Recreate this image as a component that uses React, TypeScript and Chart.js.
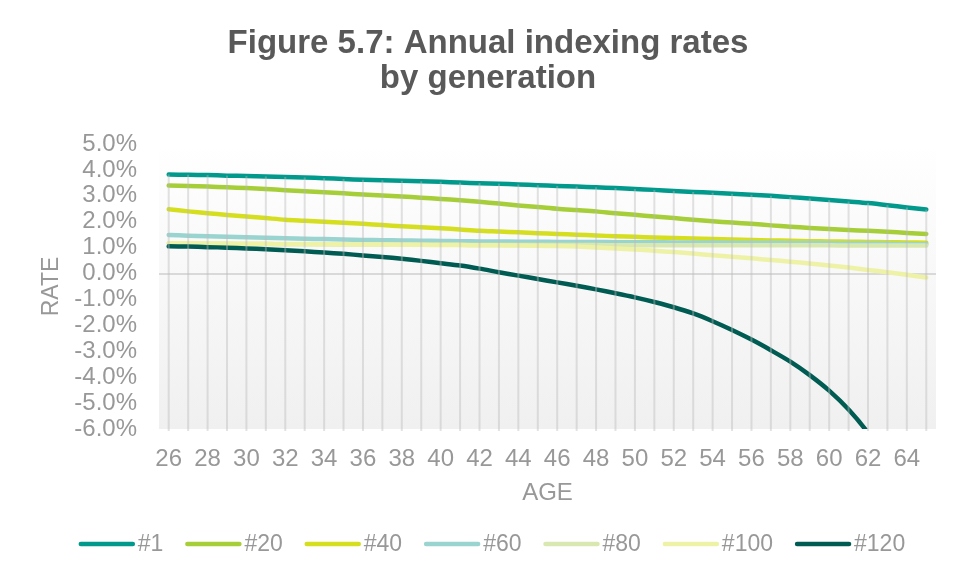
import React, { useEffect, useRef } from "react";
import { Chart, registerables } from "chart.js";

Chart.register(...registerables);

const ages = Array.from({ length: 40 }, (_, i) => String(26 + i));

const seriesNames = ["#1", "#20", "#40", "#60", "#80", "#100", "#120"];
const seriesColors = ["#00998C", "#A6CE39", "#D5DF1F", "#9AD4D0", "#D9E8B1", "#EEF2A6", "#005B52"];

const s1 = [3.82, 3.81, 3.80, 3.78, 3.77, 3.75, 3.73, 3.71, 3.68, 3.65, 3.62, 3.60, 3.58, 3.56, 3.54, 3.51, 3.49, 3.47, 3.44, 3.41, 3.38, 3.36, 3.33, 3.30, 3.26, 3.23, 3.19, 3.15, 3.12, 3.08, 3.04, 3.00, 2.95, 2.90, 2.84, 2.78, 2.72, 2.64, 2.55, 2.47];
const s20 = [3.40, 3.38, 3.36, 3.33, 3.30, 3.26, 3.22, 3.18, 3.14, 3.10, 3.05, 3.01, 2.97, 2.93, 2.88, 2.83, 2.77, 2.70, 2.63, 2.57, 2.50, 2.45, 2.40, 2.33, 2.27, 2.20, 2.14, 2.08, 2.02, 1.97, 1.92, 1.86, 1.81, 1.76, 1.72, 1.68, 1.65, 1.61, 1.57, 1.53];
const s40 = [2.48, 2.40, 2.33, 2.26, 2.20, 2.14, 2.08, 2.04, 2.00, 1.96, 1.92, 1.87, 1.83, 1.79, 1.75, 1.70, 1.65, 1.62, 1.59, 1.56, 1.53, 1.50, 1.47, 1.44, 1.42, 1.39, 1.37, 1.35, 1.33, 1.31, 1.30, 1.28, 1.27, 1.25, 1.24, 1.23, 1.22, 1.21, 1.20, 1.19];
const s60 = [1.49, 1.46, 1.44, 1.42, 1.40, 1.38, 1.36, 1.34, 1.33, 1.31, 1.30, 1.29, 1.28, 1.27, 1.26, 1.25, 1.24, 1.24, 1.23, 1.23, 1.22, 1.22, 1.22, 1.21, 1.21, 1.21, 1.20, 1.20, 1.20, 1.19, 1.19, 1.19, 1.18, 1.18, 1.17, 1.16, 1.16, 1.15, 1.14, 1.13];
const s80 = [1.16, 1.16, 1.15, 1.15, 1.14, 1.14, 1.13, 1.13, 1.13, 1.12, 1.12, 1.12, 1.11, 1.11, 1.11, 1.11, 1.10, 1.10, 1.10, 1.10, 1.10, 1.10, 1.10, 1.09, 1.09, 1.09, 1.09, 1.09, 1.09, 1.09, 1.09, 1.09, 1.09, 1.09, 1.09, 1.08, 1.08, 1.08, 1.08, 1.08];
const s100 = [1.17, 1.17, 1.16, 1.16, 1.15, 1.15, 1.14, 1.14, 1.13, 1.13, 1.12, 1.12, 1.11, 1.11, 1.10, 1.10, 1.09, 1.09, 1.08, 1.07, 1.06, 1.04, 1.01, 0.97, 0.93, 0.88, 0.83, 0.77, 0.71, 0.65, 0.59, 0.52, 0.46, 0.39, 0.31, 0.23, 0.14, 0.05, -0.05, -0.15];
const s120 = [1.05, 1.04, 1.02, 1.00, 0.97, 0.94, 0.90, 0.86, 0.81, 0.76, 0.70, 0.64, 0.57, 0.49, 0.40, 0.31, 0.19, 0.05, -0.08, -0.21, -0.34, -0.47, -0.61, -0.76, -0.92, -1.10, -1.30, -1.54, -1.84, -2.18, -2.55, -2.96, -3.40, -3.92, -4.52, -5.25, -6.15, -7.30, -8.70, -10.4];

const seriesValues = [s1, s20, s40, s60, s80, s100, s120];

const FONT = "'Liberation Sans', Arial, Helvetica, sans-serif";
const GRAY = "#989898";

const backgroundPlugin = {
  id: "plotBackground",
  beforeDraw(chart: any) {
    const { ctx, chartArea } = chart;
    if (!chartArea) return;
    const g = ctx.createLinearGradient(0, chartArea.top, 0, chartArea.bottom);
    g.addColorStop(0, "#ffffff");
    g.addColorStop(1, "#f0f0f0");
    ctx.save();
    ctx.fillStyle = g;
    ctx.fillRect(chartArea.left, chartArea.top, chartArea.right - chartArea.left, chartArea.bottom - chartArea.top);
    ctx.restore();
  },
};

const dropLinesPlugin = {
  id: "dropLines",
  afterDatasetsDraw(chart: any) {
    const { ctx, chartArea, scales } = chart;
    const xs = scales.x;
    const ys = scales.y;
    ctx.save();
    ctx.strokeStyle = "rgba(185,185,185,0.42)";
    ctx.lineWidth = 2;
    chart.data.labels.forEach((_: any, i: number) => {
      let max = -Infinity;
      chart.data.datasets.forEach((d: any) => {
        if (d.data[i] > max) max = d.data[i];
      });
      const x = xs.getPixelForValue(i);
      const yTop = Math.max(ys.getPixelForValue(max), chartArea.top);
      ctx.beginPath();
      ctx.moveTo(x, yTop);
      ctx.lineTo(x, chartArea.bottom + 2);
      ctx.stroke();
    });
    ctx.restore();
  },
};

const legendPlugin = {
  id: "lineLegend",
  afterDraw(chart: any) {
    const { ctx } = chart;
    const lineLen = 52;
    const gap = 5;
    const spacing = 24;
    const y = 544;
    ctx.save();
    ctx.font = `23px ${FONT}`;
    ctx.textBaseline = "middle";
    const items = chart.data.datasets.map((d: any) => ({
      label: d.label,
      color: d.borderColor,
      w: ctx.measureText(d.label).width,
    }));
    const total = items.reduce((s: number, it: any, i: number) => s + lineLen + gap + it.w + (i < items.length - 1 ? spacing : 0), 0);
    let x = chart.width / 2 + 14 - total / 2 + 2;
    items.forEach((it: any) => {
      ctx.strokeStyle = it.color;
      ctx.lineWidth = 4.5;
      ctx.lineCap = "round";
      ctx.beginPath();
      ctx.moveTo(x, y);
      ctx.lineTo(x + lineLen, y);
      ctx.stroke();
      ctx.fillStyle = GRAY;
      ctx.fillText(it.label, x + lineLen + gap, y + 1);
      x += lineLen + gap + it.w + spacing;
    });
    ctx.restore();
  },
};

export default function App() {
  const ref = useRef<HTMLCanvasElement | null>(null);

  useEffect(() => {
    document.body.style.margin = "0";
    const canvas = ref.current;
    if (!canvas) return;
    const chart = new Chart(canvas, {
      type: "line",
      data: {
        labels: ages,
        datasets: seriesNames.map((name, i) => ({
          label: name,
          data: seriesValues[i],
          borderColor: seriesColors[i],
          backgroundColor: seriesColors[i],
          borderWidth: 4.5,
          pointRadius: 0,
          pointHoverRadius: 0,
          tension: 0.3,
          borderCapStyle: "round",
          borderJoinStyle: "round",
          fill: false,
          order: seriesNames.length - i,
        })),
      },
      options: {
        responsive: false,
        animation: false,
        events: [],
        layout: { padding: { left: 40, right: 18, top: 0, bottom: 66 } },
        plugins: {
          legend: { display: false },
          tooltip: { enabled: false },
          title: {
            display: true,
            text: ["Figure 5.7: Annual indexing rates", "by generation"],
            color: "#595959",
            font: { family: FONT, size: 33, weight: "bold", lineHeight: 1.07 },
            padding: { top: 26, bottom: 47.4 },
          },
        },
        scales: {
          x: {
            type: "category",
            offset: true,
            grid: { display: false, drawTicks: false },
            border: { display: false },
            ticks: {
              autoSkip: false,
              maxRotation: 0,
              minRotation: 0,
              padding: 15.6,
              color: GRAY,
              font: { family: FONT, size: 24 },
              callback: (_v: any, idx: number) => (Number(ages[idx]) % 2 === 0 ? ages[idx] : ""),
            },
            title: {
              display: true,
              text: "AGE",
              color: GRAY,
              font: { family: FONT, size: 24 },
              padding: { top: 0, bottom: 4 },
            },
            afterFit: (scale: any) => {
              scale.height = 83;
            },
          },
          y: {
            min: -6,
            max: 5,
            grid: {
              drawTicks: false,
              color: (c: any) => (c.tick && c.tick.value === 0 ? "#d9d9d9" : "rgba(0,0,0,0)"),
              lineWidth: 2,
            },
            border: { display: false },
            ticks: {
              stepSize: 1,
              autoSkip: false,
              padding: 22,
              color: GRAY,
              font: { family: FONT, size: 24 },
              callback: (v: any) => Number(v).toFixed(1) + "%",
            },
            title: {
              display: true,
              text: "RATE",
              color: GRAY,
              font: { family: FONT, size: 23 },
              padding: { top: -2, bottom: 0 },
            },
            afterFit: (scale: any) => {
              scale.width = 119;
            },
          },
        },
      },
      plugins: [backgroundPlugin, dropLinesPlugin, legendPlugin],
    } as any);
    return () => chart.destroy();
  }, []);

  return (
    <div style={{ width: 954, height: 578, background: "#ffffff" }}>
      <canvas ref={ref} width={954} height={578} style={{ display: "block" }} />
    </div>
  );
}
